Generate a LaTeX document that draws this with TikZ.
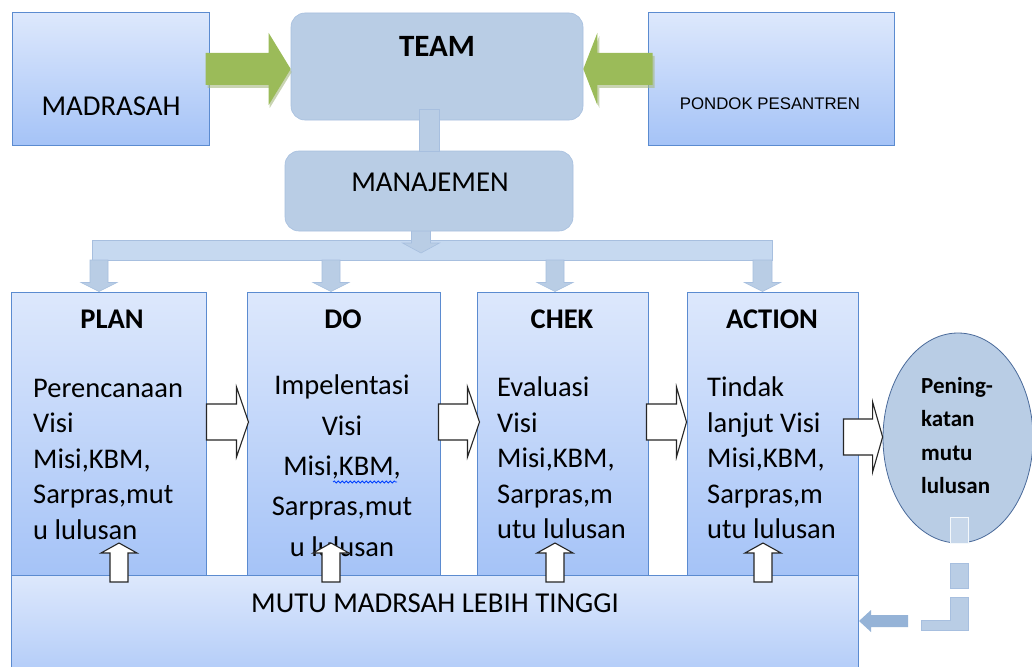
\documentclass[tikz,border=0pt]{standalone}
\usepackage{fontspec}
\setmainfont{Carlito}
\newfontfamily\arialf{Liberation Sans}
\usetikzlibrary{calc,shapes.geometric,decorations.pathmorphing}
\definecolor{gtop}{HTML}{DDE8FC}
\definecolor{gbot}{HTML}{A5C3F7}
\definecolor{bordb}{HTML}{5B8BD0}
\definecolor{steel}{HTML}{B9CDE5}
\definecolor{steeld}{HTML}{A7BFDF}
\definecolor{steell}{HTML}{C6D9F0}
\definecolor{grn}{HTML}{9BBB59}
\definecolor{grnd}{HTML}{7F9A4A}
\definecolor{arrb}{HTML}{95B3D7}
\definecolor{ellb}{HTML}{4A6A9A}
\tikzset{
 gbox/.style={rectangle, draw=bordb, line width=1pt, top color=gtop, bottom color=gbot, inner sep=0pt},
 rbox/.style={rectangle, rounded corners=14pt, fill=steel, draw=steeld, line width=0.6pt, inner sep=0pt},
 lbl/.style={inner sep=0pt, anchor=base, font=\fontsize{28.8}{33}\selectfont},
 ttl/.style={inner sep=0pt, anchor=base, font=\bfseries\fontsize{28.5}{33}\selectfont},
 body/.style={inner sep=0pt, font=\fontsize{28.5}{35.5}\selectfont, align=left, anchor=north west},
 warrow/.style={fill=white, draw=black!85, line width=1.1pt, line join=miter},
 barrow/.style={fill=steel, draw=steeld, line width=0.6pt},
 garrow/.style={fill=grn},
 gshadow/.style={fill=grnd!70!white, opacity=0.6},
}
% block arrows: style, from, to, half body, half head, head length
\newcommand\arrR[6]{\path[#1] let \p1=(#2), \p2=(#3) in
 (\x1,\y1+#4) -- (\x2-#6,\y1+#4) -- (\x2-#6,\y1+#5) -- (\x2,\y1) -- (\x2-#6,\y1-#5) -- (\x2-#6,\y1-#4) -- (\x1,\y1-#4) -- cycle;}
\newcommand\arrL[6]{\path[#1] let \p1=(#2), \p2=(#3) in
 (\x1,\y1+#4) -- (\x2+#6,\y1+#4) -- (\x2+#6,\y1+#5) -- (\x2,\y1) -- (\x2+#6,\y1-#5) -- (\x2+#6,\y1-#4) -- (\x1,\y1-#4) -- cycle;}
\newcommand\arrU[6]{\path[#1] let \p1=(#2), \p2=(#3) in
 (\x1-#4,\y1) -- (\x1-#4,\y2-#6) -- (\x1-#5,\y2-#6) -- (\x1,\y2) -- (\x1+#5,\y2-#6) -- (\x1+#4,\y2-#6) -- (\x1+#4,\y1) -- cycle;}
\newcommand\arrD[6]{\path[#1] let \p1=(#2), \p2=(#3) in
 (\x1-#4,\y1) -- (\x1-#4,\y2+#6) -- (\x1-#5,\y2+#6) -- (\x1,\y2) -- (\x1+#5,\y2+#6) -- (\x1+#4,\y2+#6) -- (\x1+#4,\y1) -- cycle;}
\begin{document}
\begin{tikzpicture}[x=1pt,y=-1pt]
\clip (0,0) rectangle (1032,666);
\fill[white] (0,0) rectangle (1032,666);
% top boxes
\node[gbox, minimum width=197pt, minimum height=132pt] (madrasah) at (110.5,79) {};
\node[rbox, minimum width=292pt, minimum height=107pt] (team) at (437,66.5) {};
\node[gbox, minimum width=246pt, minimum height=132pt] (pondok) at (771,79) {};
\node[rbox, minimum width=288pt, minimum height=80pt] (manajemen) at (429,191) {};
% connector team -> manajemen
\path[barrow] ($(manajemen.north)+(-10,1)$) rectangle ($(manajemen.north |- team.south)+(10,-11)$);
% green arrows (with soft shadow)
\coordinate (gy) at (0,69);
\coordinate (gys) at (0,72);
\arrR{gshadow}{$(madrasah.east |- gys)+(-2,0)$}{$(team.west |- gys)+(1,0)$}{16}{36}{22}
\arrR{garrow}{$(madrasah.east |- gy)+(-4,0)$}{team.west |- gy}{16}{36}{22}
\arrL{gshadow}{$(pondok.west |- gys)+(7,0)$}{$(team.east |- gys)+(2,0)$}{16}{36}{14}
\arrL{garrow}{$(pondok.west |- gy)+(5,0)$}{team.east |- gy}{16}{36}{14}
% distribution bar
\coordinate (c1) at (99,0);
\coordinate (c2) at (331,0);
\coordinate (c3) at (555,0);
\coordinate (c4) at (762.5,0);
\coordinate (barT) at (0,240);
\coordinate (barB) at (0,260);
\path[fill=steell, draw=steeld, line width=0.6pt] ($(c1 |- barT)+(-7,0)$) rectangle ($(c4 |- barB)+(9.5,0)$);
\arrD{barrow}{$(manajemen.south)+(-8,0)$}{$(manajemen.south |- barT)+(-8,13)$}{9.5}{18.5}{10}
% PDCA boxes
\node[gbox, minimum width=195pt, minimum height=283pt] (plan) at (108.5,433.5) {};
\node[gbox, minimum width=193pt, minimum height=283pt] (do) at (343.5,433.5) {};
\node[gbox, minimum width=171pt, minimum height=283pt] (chek) at (562.5,433.5) {};
\node[gbox, minimum width=171pt, minimum height=283pt] (action) at (772.5,433.5) {};
\arrD{barrow}{c1 |- barB}{c1 |- plan.north}{9}{18}{9}
\arrD{barrow}{c2 |- barB}{c2 |- do.north}{9}{18}{9}
\arrD{barrow}{c3 |- barB}{c3 |- chek.north}{9}{18}{9}
\arrD{barrow}{c4 |- barB}{c4 |- action.north}{9.5}{18}{9}
% bottom box
\node[gbox, minimum width=847pt, minimum height=130pt, anchor=north west] (mutu) at (11,575) {};
% ellipse
\node[ellipse, fill=steel, draw=ellb, line width=0.8pt, minimum width=150pt, minimum height=210pt, inner sep=0pt] (ell) at (958,438) {};
% texts
\node[lbl] (tmadrasah) at (111,116) {MADRASAH};
\node[ttl, font=\bfseries\fontsize{31}{33}\selectfont] (tteam) at (437,57) {TEAM};
\node[inner sep=0pt, anchor=base, font=\arialf\fontsize{16.8}{20}\selectfont] (tpondok) at (770,110) {PONDOK PESANTREN};
\node[lbl] (tman) at (430,191) {MANAJEMEN};
\node[ttl] (tplan) at (112,328) {PLAN};
\node[ttl] (tdo) at (343,328) {DO};
\node[ttl] (tchek) at (562,328) {CHEK};
\node[ttl] (taction) at (772,328) {ACTION};
\node[body] (bplan) at (33,379) {Perencanaan\\Visi\\Misi,KBM,\\Sarpras,mut\\u lulusan};
\node[body, align=center, anchor=north, font=\fontsize{28.5}{40.3}\selectfont] (bdo) at (342,375) {Impelentasi\\Visi\\Misi,KBM,\\Sarpras,mut\\u lulusan};
\node[body] (bchek) at (497,377) {Evaluasi\\Visi\\Misi,KBM,\\Sarpras,m\\utu lulusan};
\node[body] (baction) at (707,377) {Tindak\\lanjut Visi\\Misi,KBM,\\Sarpras,m\\utu lulusan};
\node[body, font=\bfseries\fontsize{23}{33.5}\selectfont] (tell) at (921,377) {Pening-\\katan\\mutu\\lulusan};
\node[lbl] (tmutu) at (435,612) {MUTU MADRSAH LEBIH TINGGI};
\draw[blue!75!cyan, line width=0.8pt, decorate, decoration={snake, amplitude=1pt, segment length=4pt}] (333,482) -- (397,482);
% white arrows right
\coordinate (rowA) at (0,422);
\coordinate (rowB) at (0,437);
\arrR{warrow}{plan.east |- rowA}{$(do.west |- rowA)+(2,0)$}{18}{35}{12}
\arrR{warrow}{$(do.east |- rowA)+(-2,0)$}{$(chek.west |- rowA)+(3,0)$}{18}{35}{12}
\arrR{warrow}{$(chek.east |- rowA)+(-2,0)$}{action.west |- rowA}{18}{35}{10}
\arrR{warrow}{$(action.east |- rowB)+(-15,0)$}{ell.west |- rowB}{18}{35}{10}
% white arrows up
\coordinate (u1) at (119,0);
\coordinate (u2) at (331,0);
\coordinate (u3) at (555,0);
\coordinate (u4) at (763,0);
\coordinate (uptip) at (0,543);
\arrU{warrow}{$(u1 |- mutu.north)+(0,7)$}{u1 |- uptip}{9}{18}{10}
\arrU{warrow}{$(u2 |- mutu.north)+(0,7)$}{u2 |- uptip}{9}{18}{10}
\arrU{warrow}{$(u3 |- mutu.north)+(0,7)$}{u3 |- uptip}{9}{18}{10}
\arrU{warrow}{$(u4 |- mutu.north)+(0,7)$}{u4 |- uptip}{9}{18}{10}
% broken connector ellipse -> mutu
\path[fill=steel!80!white, draw=white!85!steel, line width=1pt] (950,517) rectangle (968,543);
\path[fill=steel, draw=steeld, line width=0.6pt] (950,563) rectangle (968,588);
\path[fill=steel, draw=steeld, line width=0.6pt] (950,597) -- (968,597) -- (968,630) -- (921,630) -- (921,620) -- (950,620) -- cycle;
\coordinate (cx) at (908,621);
\arrL{fill=arrb}{cx}{mutu.east |- cx}{6}{11}{12}
\end{tikzpicture}
\end{document}
